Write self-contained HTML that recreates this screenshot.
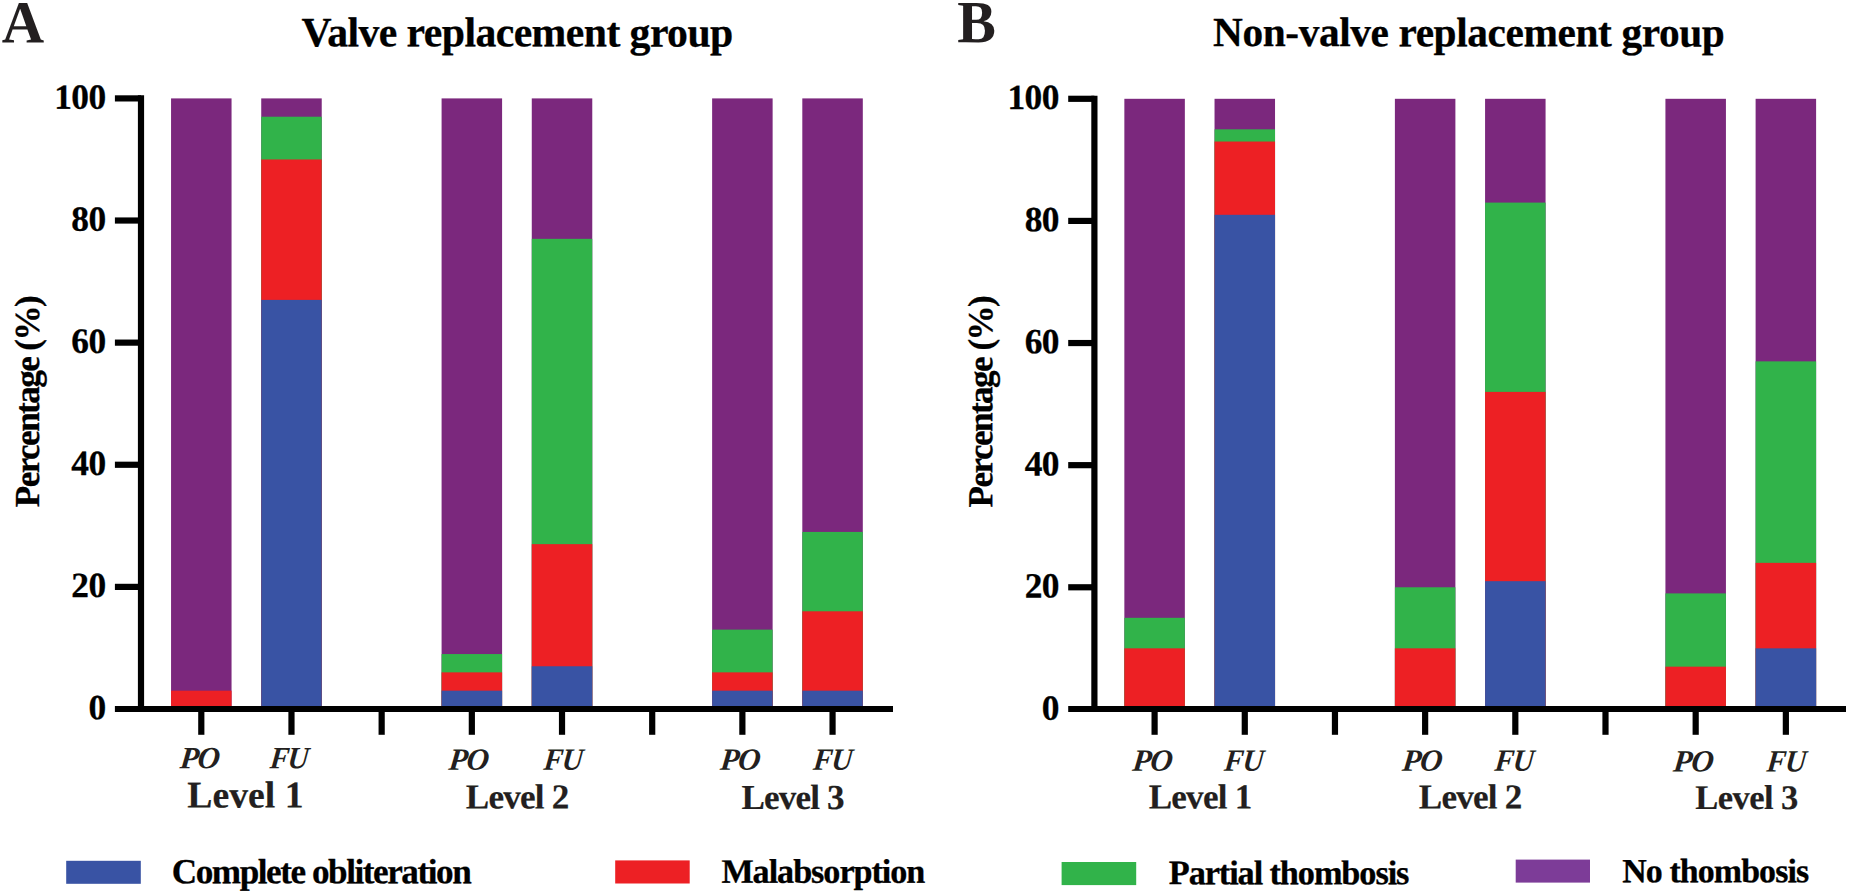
<!DOCTYPE html>
<html lang="en"><head><meta charset="utf-8"><title>Thrombosis by level</title>
<style>html,body{margin:0;padding:0;background:#fff}body{width:1850px;height:894px;overflow:hidden}svg text{font-family:"Liberation Serif","Times New Roman",serif;white-space:pre;text-rendering:geometricPrecision}</style></head>
<body>
<svg width="1850" height="894" viewBox="0 0 1850 894" style="display:block">
<rect width="1850" height="894" fill="#fff"/>
<g>
<rect x="171.05" y="98.40" width="60.50" height="610.60" fill="#7b287d"/>
<rect x="171.05" y="690.68" width="60.50" height="18.32" fill="#ed2024"/>
<rect x="261.23" y="98.40" width="60.50" height="610.60" fill="#7b287d"/>
<rect x="261.23" y="116.72" width="60.50" height="592.28" fill="#31b34a"/>
<rect x="261.23" y="159.46" width="60.50" height="549.54" fill="#ed2024"/>
<rect x="261.23" y="299.90" width="60.50" height="409.10" fill="#3953a4"/>
<rect x="441.59" y="98.40" width="60.50" height="610.60" fill="#7b287d"/>
<rect x="441.59" y="654.05" width="60.50" height="54.95" fill="#31b34a"/>
<rect x="441.59" y="672.36" width="60.50" height="36.64" fill="#ed2024"/>
<rect x="441.59" y="690.68" width="60.50" height="18.32" fill="#3953a4"/>
<rect x="531.77" y="98.40" width="60.50" height="610.60" fill="#7b287d"/>
<rect x="531.77" y="238.84" width="60.50" height="470.16" fill="#31b34a"/>
<rect x="531.77" y="544.14" width="60.50" height="164.86" fill="#ed2024"/>
<rect x="531.77" y="666.26" width="60.50" height="42.74" fill="#3953a4"/>
<rect x="712.13" y="98.40" width="60.50" height="610.60" fill="#7b287d"/>
<rect x="712.13" y="629.62" width="60.50" height="79.38" fill="#31b34a"/>
<rect x="712.13" y="672.36" width="60.50" height="36.64" fill="#ed2024"/>
<rect x="712.13" y="690.68" width="60.50" height="18.32" fill="#3953a4"/>
<rect x="802.31" y="98.40" width="60.50" height="610.60" fill="#7b287d"/>
<rect x="802.31" y="531.93" width="60.50" height="177.07" fill="#31b34a"/>
<rect x="802.31" y="611.30" width="60.50" height="97.70" fill="#ed2024"/>
<rect x="802.31" y="690.68" width="60.50" height="18.32" fill="#3953a4"/>
</g>
<g stroke="#000" stroke-width="6.2" fill="none">
<path d="M141.00 95.30V712.10"/>
<path d="M114.90 709.00H893.00"/>
<path d="M114.90 586.88H141.00"/>
<path d="M114.90 464.76H141.00"/>
<path d="M114.90 342.64H141.00"/>
<path d="M114.90 220.52H141.00"/>
<path d="M114.90 98.40H141.00"/>
<path d="M201.30 709.00V734.8"/>
<path d="M291.48 709.00V734.8"/>
<path d="M381.66 709.00V734.8"/>
<path d="M471.84 709.00V734.8"/>
<path d="M562.02 709.00V734.8"/>
<path d="M652.20 709.00V734.8"/>
<path d="M742.38 709.00V734.8"/>
<path d="M832.56 709.00V734.8"/>
</g>
<g>
<rect x="1124.35" y="98.80" width="60.50" height="610.20" fill="#7b287d"/>
<rect x="1124.35" y="617.81" width="60.50" height="91.19" fill="#31b34a"/>
<rect x="1124.35" y="648.34" width="60.50" height="60.66" fill="#ed2024"/>
<rect x="1214.53" y="98.80" width="60.50" height="610.20" fill="#7b287d"/>
<rect x="1214.53" y="129.33" width="60.50" height="579.67" fill="#31b34a"/>
<rect x="1214.53" y="141.54" width="60.50" height="567.46" fill="#ed2024"/>
<rect x="1214.53" y="214.81" width="60.50" height="494.19" fill="#3953a4"/>
<rect x="1394.89" y="98.80" width="60.50" height="610.20" fill="#7b287d"/>
<rect x="1394.89" y="587.28" width="60.50" height="121.72" fill="#31b34a"/>
<rect x="1394.89" y="648.34" width="60.50" height="60.66" fill="#ed2024"/>
<rect x="1485.07" y="98.80" width="60.50" height="610.20" fill="#7b287d"/>
<rect x="1485.07" y="202.60" width="60.50" height="506.40" fill="#31b34a"/>
<rect x="1485.07" y="391.89" width="60.50" height="317.11" fill="#ed2024"/>
<rect x="1485.07" y="581.17" width="60.50" height="127.83" fill="#3953a4"/>
<rect x="1665.43" y="98.80" width="60.50" height="610.20" fill="#7b287d"/>
<rect x="1665.43" y="593.39" width="60.50" height="115.61" fill="#31b34a"/>
<rect x="1665.43" y="666.66" width="60.50" height="42.34" fill="#ed2024"/>
<rect x="1755.61" y="98.80" width="60.50" height="610.20" fill="#7b287d"/>
<rect x="1755.61" y="361.36" width="60.50" height="347.64" fill="#31b34a"/>
<rect x="1755.61" y="562.86" width="60.50" height="146.14" fill="#ed2024"/>
<rect x="1755.61" y="648.34" width="60.50" height="60.66" fill="#3953a4"/>
</g>
<g stroke="#000" stroke-width="6.2" fill="none">
<path d="M1094.40 95.70V712.10"/>
<path d="M1068.20 709.00H1846.00"/>
<path d="M1068.20 587.28H1094.40"/>
<path d="M1068.20 465.16H1094.40"/>
<path d="M1068.20 343.04H1094.40"/>
<path d="M1068.20 220.92H1094.40"/>
<path d="M1068.20 98.80H1094.40"/>
<path d="M1154.60 709.00V734.8"/>
<path d="M1244.78 709.00V734.8"/>
<path d="M1334.96 709.00V734.8"/>
<path d="M1425.14 709.00V734.8"/>
<path d="M1515.32 709.00V734.8"/>
<path d="M1605.50 709.00V734.8"/>
<path d="M1695.68 709.00V734.8"/>
<path d="M1785.86 709.00V734.8"/>
</g>
<text transform="translate(1.70 42.54) matrix(1 0.0008 0 1 0 0) scale(0.9791 1)" font-size="59.98" font-weight="bold" fill="#231f20">A</text>
<text transform="translate(957.14 42.35) matrix(1 0.0008 0 1 0 0) scale(0.9652 1)" font-size="60.09" font-weight="bold" fill="#231f20">B</text>
<text transform="translate(301.41 46.14) matrix(1 0.0008 0 1 0 0)" font-size="41.73" font-weight="bold" fill="#000" stroke="#000" stroke-width="0.3" stroke-linejoin="round" letter-spacing="-0.562">Valve replacement group</text>
<text transform="translate(1212.92 46.01) matrix(1 0.0008 0 1 0 0)" font-size="41.35" font-weight="bold" fill="#000" stroke="#000" stroke-width="0.3" stroke-linejoin="round" letter-spacing="-0.394">Non-valve replacement group</text>
<text transform="translate(179.14 768.26) matrix(1 0.0008 0 1 0 0) skewX(-6)" font-size="30.93" font-weight="bold" font-style="italic" fill="#231f20" letter-spacing="-1.208">PO</text>
<text transform="translate(269.27 768.26) matrix(1 0.0008 0 1 0 0) skewX(-6) scale(0.9300 1)" font-size="30.93" font-weight="bold" font-style="italic" fill="#231f20" letter-spacing="-1.573">FU</text>
<text transform="translate(448.08 769.81) matrix(1 0.0008 0 1 0 0) skewX(-6)" font-size="31.09" font-weight="bold" font-style="italic" fill="#231f20" letter-spacing="-1.235">PO</text>
<text transform="translate(543.00 769.81) matrix(1 0.0008 0 1 0 0) skewX(-6) scale(0.9300 1)" font-size="31.09" font-weight="bold" font-style="italic" fill="#231f20" letter-spacing="-1.031">FU</text>
<text transform="translate(719.57 769.81) matrix(1 0.0008 0 1 0 0) skewX(-6)" font-size="31.09" font-weight="bold" font-style="italic" fill="#231f20" letter-spacing="-1.239">PO</text>
<text transform="translate(812.52 769.81) matrix(1 0.0008 0 1 0 0) skewX(-6) scale(0.9300 1)" font-size="31.09" font-weight="bold" font-style="italic" fill="#231f20" letter-spacing="-1.063">FU</text>
<text transform="translate(187.34 807.54) matrix(1 0.0008 0 1 0 0)" font-size="37.73" font-weight="bold" fill="#231f20" stroke="#231f20" stroke-width="0.2" stroke-linejoin="round" letter-spacing="-0.002">Level 1</text>
<text transform="translate(465.84 808.51) matrix(1 0.0008 0 1 0 0)" font-size="35.14" font-weight="bold" fill="#231f20" stroke="#231f20" stroke-width="0.2" stroke-linejoin="round" letter-spacing="-0.818">Level 2</text>
<text transform="translate(741.48 809.00) matrix(1 0.0008 0 1 0 0)" font-size="35.11" font-weight="bold" fill="#231f20" stroke="#231f20" stroke-width="0.2" stroke-linejoin="round" letter-spacing="-0.867">Level 3</text>
<text transform="translate(1131.76 770.80) matrix(1 0.0008 0 1 0 0) skewX(-6)" font-size="31.05" font-weight="bold" font-style="italic" fill="#231f20" letter-spacing="-1.235">PO</text>
<text transform="translate(1223.41 770.80) matrix(1 0.0008 0 1 0 0) skewX(-6) scale(0.9300 1)" font-size="31.05" font-weight="bold" font-style="italic" fill="#231f20" letter-spacing="-0.761">FU</text>
<text transform="translate(1401.49 770.80) matrix(1 0.0008 0 1 0 0) skewX(-6)" font-size="31.05" font-weight="bold" font-style="italic" fill="#231f20" letter-spacing="-1.220">PO</text>
<text transform="translate(1494.09 770.80) matrix(1 0.0008 0 1 0 0) skewX(-6) scale(0.9300 1)" font-size="31.05" font-weight="bold" font-style="italic" fill="#231f20" letter-spacing="-1.059">FU</text>
<text transform="translate(1672.62 771.54) matrix(1 0.0008 0 1 0 0) skewX(-6)" font-size="31.05" font-weight="bold" font-style="italic" fill="#231f20" letter-spacing="-1.075">PO</text>
<text transform="translate(1766.00 771.54) matrix(1 0.0008 0 1 0 0) skewX(-6) scale(0.9300 1)" font-size="31.05" font-weight="bold" font-style="italic" fill="#231f20" letter-spacing="-0.741">FU</text>
<text transform="translate(1148.65 808.48) matrix(1 0.0008 0 1 0 0)" font-size="35.09" font-weight="bold" fill="#231f20" stroke="#231f20" stroke-width="0.2" stroke-linejoin="round" letter-spacing="-0.754">Level 1</text>
<text transform="translate(1418.84 808.51) matrix(1 0.0008 0 1 0 0)" font-size="35.14" font-weight="bold" fill="#231f20" stroke="#231f20" stroke-width="0.2" stroke-linejoin="round" letter-spacing="-0.818">Level 2</text>
<text transform="translate(1695.29 809.00) matrix(1 0.0008 0 1 0 0)" font-size="34.55" font-weight="bold" fill="#231f20" stroke="#231f20" stroke-width="0.2" stroke-linejoin="round" letter-spacing="-0.597">Level 3</text>
<text transform="translate(171.78 883.13) matrix(1 0.0008 0 1 0 0)" font-size="35.15" font-weight="bold" fill="#000" stroke="#000" stroke-width="0.3" stroke-linejoin="round" letter-spacing="-1.450">Complete obliteration</text>
<text transform="translate(721.39 882.64) matrix(1 0.0008 0 1 0 0)" font-size="34.18" font-weight="bold" fill="#000" stroke="#000" stroke-width="0.3" stroke-linejoin="round" letter-spacing="-1.043">Malabsorption</text>
<text transform="translate(1168.81 884.12) matrix(1 0.0008 0 1 0 0)" font-size="34.31" font-weight="bold" fill="#000" stroke="#000" stroke-width="0.3" stroke-linejoin="round" letter-spacing="-1.099">Partial thombosis</text>
<text transform="translate(1622.18 882.13) matrix(1 0.0008 0 1 0 0)" font-size="33.92" font-weight="bold" fill="#000" stroke="#000" stroke-width="0.3" stroke-linejoin="round" letter-spacing="-0.899">No thombosis</text>
<text transform="translate(88.49 719.23) matrix(1 0.0008 0 1 0 0)" font-size="35.38" font-weight="bold" fill="#000" stroke="#000" stroke-width="0.3" stroke-linejoin="round" letter-spacing="-0.482">0</text>
<text transform="translate(71.34 597.11) matrix(1 0.0008 0 1 0 0)" font-size="35.38" font-weight="bold" fill="#000" stroke="#000" stroke-width="0.3" stroke-linejoin="round" letter-spacing="-0.482">20</text>
<text transform="translate(71.34 474.99) matrix(1 0.0008 0 1 0 0)" font-size="35.38" font-weight="bold" fill="#000" stroke="#000" stroke-width="0.3" stroke-linejoin="round" letter-spacing="-0.482">40</text>
<text transform="translate(71.34 352.87) matrix(1 0.0008 0 1 0 0)" font-size="35.38" font-weight="bold" fill="#000" stroke="#000" stroke-width="0.3" stroke-linejoin="round" letter-spacing="-0.482">60</text>
<text transform="translate(71.34 230.75) matrix(1 0.0008 0 1 0 0)" font-size="35.38" font-weight="bold" fill="#000" stroke="#000" stroke-width="0.3" stroke-linejoin="round" letter-spacing="-0.482">80</text>
<text transform="translate(54.16 108.63) matrix(1 0.0008 0 1 0 0)" font-size="35.38" font-weight="bold" fill="#000" stroke="#000" stroke-width="0.3" stroke-linejoin="round" letter-spacing="-0.482">100</text>
<text transform="translate(1041.82 719.63) matrix(1 0.0008 0 1 0 0)" font-size="35.38" font-weight="bold" fill="#000" stroke="#000" stroke-width="0.3" stroke-linejoin="round" letter-spacing="-0.482">0</text>
<text transform="translate(1024.65 597.51) matrix(1 0.0008 0 1 0 0)" font-size="35.38" font-weight="bold" fill="#000" stroke="#000" stroke-width="0.3" stroke-linejoin="round" letter-spacing="-0.482">20</text>
<text transform="translate(1024.65 475.39) matrix(1 0.0008 0 1 0 0)" font-size="35.38" font-weight="bold" fill="#000" stroke="#000" stroke-width="0.3" stroke-linejoin="round" letter-spacing="-0.482">40</text>
<text transform="translate(1024.64 353.27) matrix(1 0.0008 0 1 0 0)" font-size="35.38" font-weight="bold" fill="#000" stroke="#000" stroke-width="0.3" stroke-linejoin="round" letter-spacing="-0.482">60</text>
<text transform="translate(1024.64 231.15) matrix(1 0.0008 0 1 0 0)" font-size="35.38" font-weight="bold" fill="#000" stroke="#000" stroke-width="0.3" stroke-linejoin="round" letter-spacing="-0.482">80</text>
<text transform="translate(1007.40 109.03) matrix(1 0.0008 0 1 0 0)" font-size="35.38" font-weight="bold" fill="#000" stroke="#000" stroke-width="0.3" stroke-linejoin="round" letter-spacing="-0.482">100</text>
<text transform="translate(38.89 507.13) rotate(-90) matrix(1 0.0008 0 1 0 0)" font-size="35.15" font-weight="bold" fill="#000" stroke="#000" stroke-width="0.3" stroke-linejoin="round" letter-spacing="-1.592">Percentage (%)</text>
<text transform="translate(992.21 507.38) rotate(-90) matrix(1 0.0008 0 1 0 0)" font-size="35.08" font-weight="bold" fill="#000" stroke="#000" stroke-width="0.3" stroke-linejoin="round" letter-spacing="-1.538">Percentage (%)</text>
<rect x="66.2" y="860.8" width="74.60" height="23.00" fill="#3953a4"/>
<rect x="615.2" y="860.4" width="74.50" height="23.10" fill="#ed2024"/>
<rect x="1061.6" y="862.0" width="74.60" height="23.10" fill="#31b34a"/>
<rect x="1515.7" y="859.6" width="74.30" height="23.00" fill="#7d3c98"/>
</svg>
</body></html>
